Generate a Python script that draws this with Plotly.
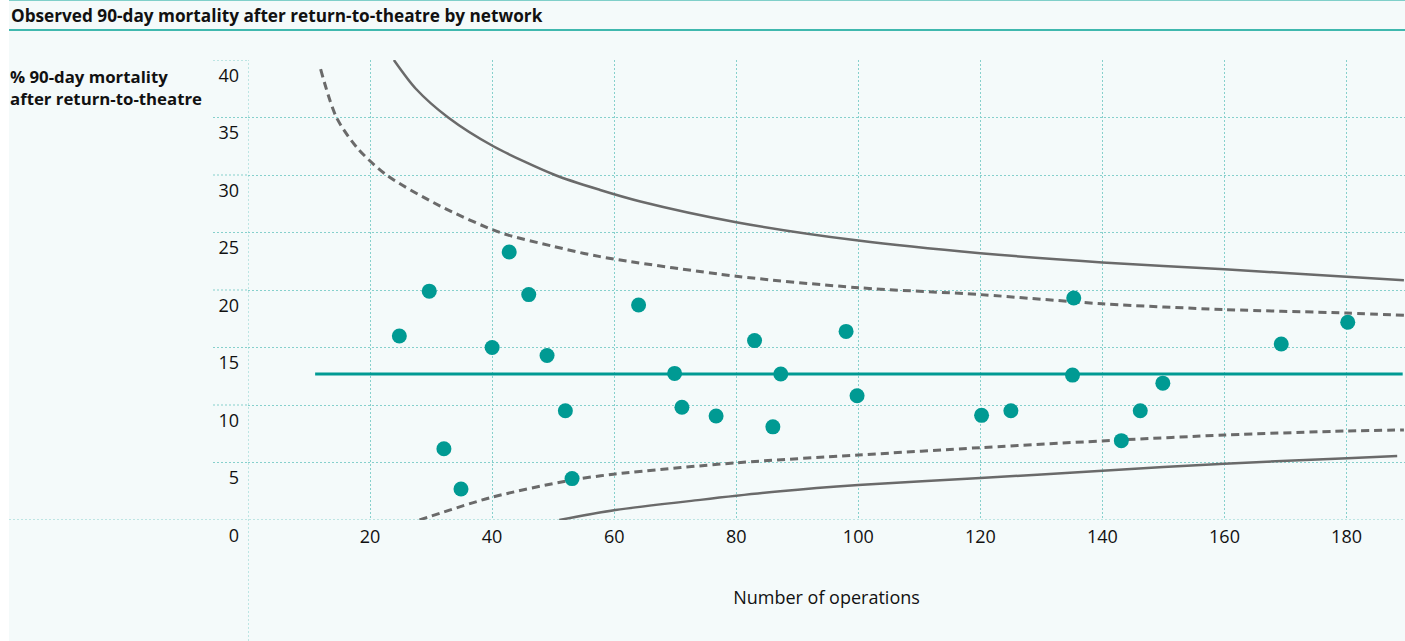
import plotly.graph_objects as go

# ---- data ----
ops = [24.8, 29.7, 32.1, 34.9, 40.0, 42.8, 46.0, 49.0, 52.0, 53.1, 64.0, 69.9, 71.1, 76.7,
       83.0, 86.0, 87.3, 98.0, 99.8, 120.2, 125.0, 135.3, 135.1, 143.1, 146.2, 149.9, 169.3, 180.2]
mortality = [16.0, 19.9, 6.2, 2.7, 15.0, 23.3, 19.6, 14.3, 9.5, 3.6, 18.7, 12.75, 9.8, 9.05,
             15.6, 8.1, 12.7, 16.4, 10.8, 9.1, 9.5, 19.3, 12.6, 6.9, 9.5, 11.9, 15.3, 17.2]

mean_x = [11.0, 189.2]
mean_y = [12.7, 12.7]

upper_998_x = [23.9, 27.5, 32.8, 40.2, 50.3, 57.7, 64.3, 80.0, 100.0, 120.0, 140.0, 160.0, 180.0, 189.4]
upper_998_y = [40.0, 37.5, 35.0, 32.5, 30.0, 28.7, 27.7, 25.9, 24.3, 23.2, 22.4, 21.8, 21.15, 20.85]

upper_95_x = [11.9, 14.5, 18.0, 22.7, 31.5, 41.3, 50.0, 57.7, 80.0, 100.0, 120.0, 140.0, 160.0, 180.0, 189.4]
upper_95_y = [39.2, 35.0, 32.3, 30.0, 27.3, 25.0, 23.8, 22.9, 21.2, 20.2, 19.6, 18.8, 18.3, 18.0, 17.8]

lower_95_x = [28.1, 39.9, 53.1, 60.2, 80.1, 100.0, 120.2, 143.0, 160.0, 180.1, 189.4]
lower_95_y = [0.0, 1.97, 3.48, 4.0, 4.98, 5.65, 6.3, 6.96, 7.39, 7.74, 7.83]

lower_998_x = [51.0, 60.2, 74.1, 87.2, 100.0, 120.0, 140.0, 160.0, 180.1, 188.3]
lower_998_y = [0.0, 0.87, 1.75, 2.5, 3.04, 3.65, 4.28, 4.9, 5.36, 5.57]

x_ticks = [20, 40, 60, 80, 100, 120, 140, 160, 180]
y_ticks = [0, 5, 10, 15, 20, 25, 30, 35, 40]

title_text = "Observed 90-day mortality after return-to-theatre by network"
ylabel_text = "% 90-day mortality<br>after return-to-theatre"
xlabel_text = "Number of operations"

# ---- style ----
W, H = 1405, 641
L, R, T, B = 248, 0, 60, 121
PW = W - L - R
PH = H - T - B
TEAL = "#009a93"
GREY = "#6a6a6a"
GRID = "#86d0cc"
BG = "#f4fafa"
FONT = "Open Sans"


def px_x(p):
    return (p - L) / PW


def px_y(p):
    return 1 - (p - T) / PH


fig = go.Figure()

for xs, ys, dash, w in [(upper_998_x, upper_998_y, "solid", 2.5),
                        (lower_998_x, lower_998_y, "solid", 2.5),
                        (upper_95_x, upper_95_y, "8px,5px", 3),
                        (lower_95_x, lower_95_y, "8px,5px", 3)]:
    fig.add_trace(go.Scatter(x=xs, y=ys, mode="lines",
                             line=dict(color=GREY, width=w, dash=dash, shape="spline", smoothing=0.8),
                             hoverinfo="skip", showlegend=False, cliponaxis=False))

fig.add_trace(go.Scatter(x=mean_x, y=mean_y, mode="lines", line=dict(color=TEAL, width=3),
                         hoverinfo="skip", showlegend=False))
fig.add_trace(go.Scatter(x=ops, y=mortality, mode="markers",
                         marker=dict(color=TEAL, size=15, line=dict(width=0)), showlegend=False))

shapes = []
# white left margin
shapes.append(dict(type="rect", xref="paper", yref="paper", x0=px_x(0), x1=px_x(9), y0=px_y(H), y1=px_y(0),
                   fillcolor="white", line=dict(width=0), layer="below"))
# title rules
shapes.append(dict(type="line", xref="paper", yref="paper", x0=px_x(9), x1=px_x(W), y0=px_y(0.5), y1=px_y(0.5),
                   line=dict(color="#7fcfc9", width=1)))
shapes.append(dict(type="line", xref="paper", yref="paper", x0=px_x(9), x1=px_x(W), y0=px_y(30), y1=px_y(30),
                   line=dict(color="#3fb8ae", width=2)))
# horizontal grid extensions to the left
for v in y_ticks[1:]:
    shapes.append(dict(type="line", xref="paper", yref="y", x0=px_x(213), x1=0, y0=v, y1=v,
                       line=dict(color=GRID, width=1, dash="2px,2px"), layer="below"))
shapes.append(dict(type="line", xref="paper", yref="y", x0=px_x(9), x1=1, y0=0, y1=0,
                   line=dict(color=GRID, width=1, dash="2px,2px"), layer="below"))
# x = 0 line running to the bottom
shapes.append(dict(type="line", xref="x", yref="paper", x0=0, x1=0, y0=px_y(H), y1=1,
                   line=dict(color=GRID, width=1, dash="2px,2px"), layer="below"))

annotations = [
    dict(text="<b>" + title_text + "</b>", xref="paper", yref="paper", x=px_x(9), y=px_y(15),
         xanchor="left", yanchor="middle", showarrow=False, font=dict(family=FONT, size=17.2, color="#111")),
    dict(text="<b>" + ylabel_text + "</b>", xref="paper", yref="paper", x=px_x(8), y=px_y(63),
         xanchor="left", yanchor="top", align="left", showarrow=False,
         font=dict(family=FONT, size=16.8, color="#111")),
]

fig.update_layout(
    width=W, height=H, autosize=False,
    margin=dict(l=L, r=R, t=T, b=B, pad=0),
    paper_bgcolor=BG, plot_bgcolor=BG,
    font=dict(family=FONT, size=18, color="#111"),
    shapes=shapes, annotations=annotations,
    xaxis=dict(range=[0, PW / 6.103], tickvals=x_ticks, showgrid=True, gridcolor=GRID, griddash="2px,2px",
               gridwidth=1, zeroline=False, showline=False, ticks="", ticklabelstandoff=4,
               title=dict(text=xlabel_text, standoff=44, font=dict(size=18))),
    yaxis=dict(range=[0, 40], tickvals=y_ticks, showgrid=True, gridcolor=GRID, griddash="2px,2px",
               gridwidth=1, zeroline=False, showline=False, ticks="", ticklabelposition="outside bottom",
               ticklabelstandoff=8, ticklabelshift=3),
)

fig.write_html("out.html", config={"displayModeBar": False},
               post_script="document.body.style.margin='0';document.body.style.overflow='hidden';")
